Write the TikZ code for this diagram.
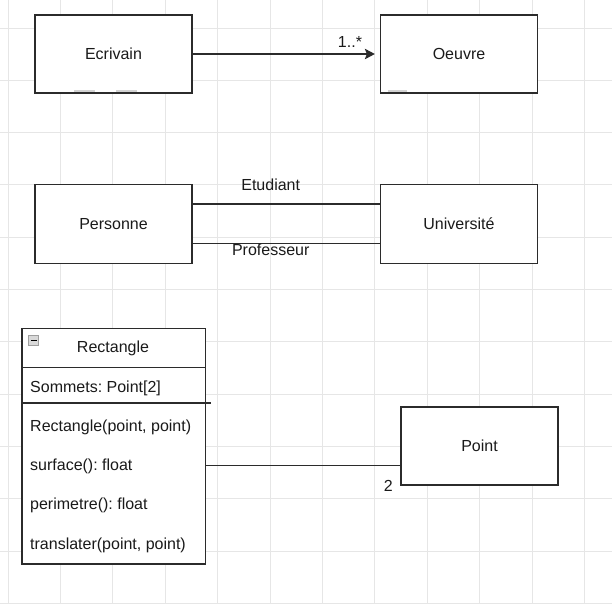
\documentclass[tikz,border=0pt]{standalone}
\usepackage{fontspec}
\setmainfont{Liberation Sans}
\usetikzlibrary{arrows.meta}
\definecolor{gridc}{HTML}{E6E6E6}
\definecolor{linec}{HTML}{2B2B2B}
\definecolor{textc}{HTML}{1A1A1A}
\frenchspacing
\begin{document}
\begin{tikzpicture}[x=1pt,y=-1pt,
  gridline/.style={draw=gridc,line width=1pt},
  umlbox/.style={draw=linec,fill=white,line width=1.3pt,rectangle,inner sep=0pt,
    minimum width=157pt,minimum height=78pt,text=textc,
    font=\fontsize{16}{19}\selectfont},
  conn/.style={draw=linec,line width=1.3pt},
  lbl/.style={text=textc,inner sep=0pt,font=\fontsize{16}{19}\selectfont},
  member/.style={lbl,anchor=west},
  smudge/.style={draw=gray!35,line width=2pt}
]
\useasboundingbox (0,0) rectangle (612,603);
\fill[white] (0,0) rectangle (612,603);
% grid
\foreach \i in {0,...,11} {
  \draw[gridline] ({8+52.4*\i},0) -- ({8+52.4*\i},603);
  \draw[gridline] (0,{28+52.3*\i}) -- (612,{28+52.3*\i});
}
% top row
\node[umlbox] (ecrivain) at (113.5,54) {Ecrivain};
\node[umlbox] (oeuvre) at (459,54) {Oeuvre};
\draw[smudge] (74,91.3) -- (95,91.3);
\draw[smudge] (116,91.3) -- (137,91.3);
\draw[smudge] (388,91.3) -- (407,91.3);
\coordinate (oeuvreend) at ([xshift=-5pt]oeuvre.west);
\draw[conn,-{Stealth[length=10pt,width=10.5pt,inset=2pt]}] (ecrivain.east) -- (oeuvreend);
\node[lbl] (mult1) at (350,41.5) {1..*};
% middle row
\node[umlbox,minimum height=78.5pt] (personne) at (113.5,224) {Personne};
\node[umlbox,minimum height=78.5pt] (universite) at (459,224) {Université};
\coordinate (etu) at ([yshift=20pt]universite.west);
\coordinate (prof) at ([yshift=-19.5pt]universite.west);
\draw[conn] (personne.east |- etu) -- (etu);
\draw[conn] (personne.east |- prof) -- (prof);
\node[lbl] (etudiant) at (270.7,185) {Etudiant};
\node[lbl] (professeur) at (270.7,250) {Professeur};
% class Rectangle
\node[umlbox,minimum width=183.5pt,minimum height=235.5pt] (cls) at (113.75,446.25) {};
\coordinate (sepA) at (22,367.7);
\coordinate (sepAe) at (205.5,367.7);
\coordinate (sepB) at (22,403);
\coordinate (sepBe) at (210.5,403);
\draw[conn] (sepA) -- (sepAe);
\draw[conn] (sepB) -- (sepBe);
\draw[draw=gray!75,fill=gray!30,line width=0.8pt] (28.5,335.2) rectangle (38.8,345.8);
\draw[black,line width=1.2pt] (30.8,340.5) -- (36.5,340.5);
\node[lbl] (clsname) at (113,348.5) {Rectangle};
\node[member] (attr) at (30,388.5) {Sommets: Point[2]};
\node[member] (m1) at (30,427) {Rectangle(point, point)};
\node[member] (m2) at (30,466) {surface(): float};
\node[member] (m3) at (30,505.5) {perimetre(): float};
\node[member] (m4) at (30,545) {translater(point, point)};
% Point
\node[umlbox] (point) at (479.5,446) {Point};
\coordinate (rp) at ([yshift=-19.5pt]point.west);
\draw[conn] (cls.east |- rp) -- (rp);
\node[lbl] (mult2) at (388.3,485.7) {2};
\end{tikzpicture}
\end{document}
